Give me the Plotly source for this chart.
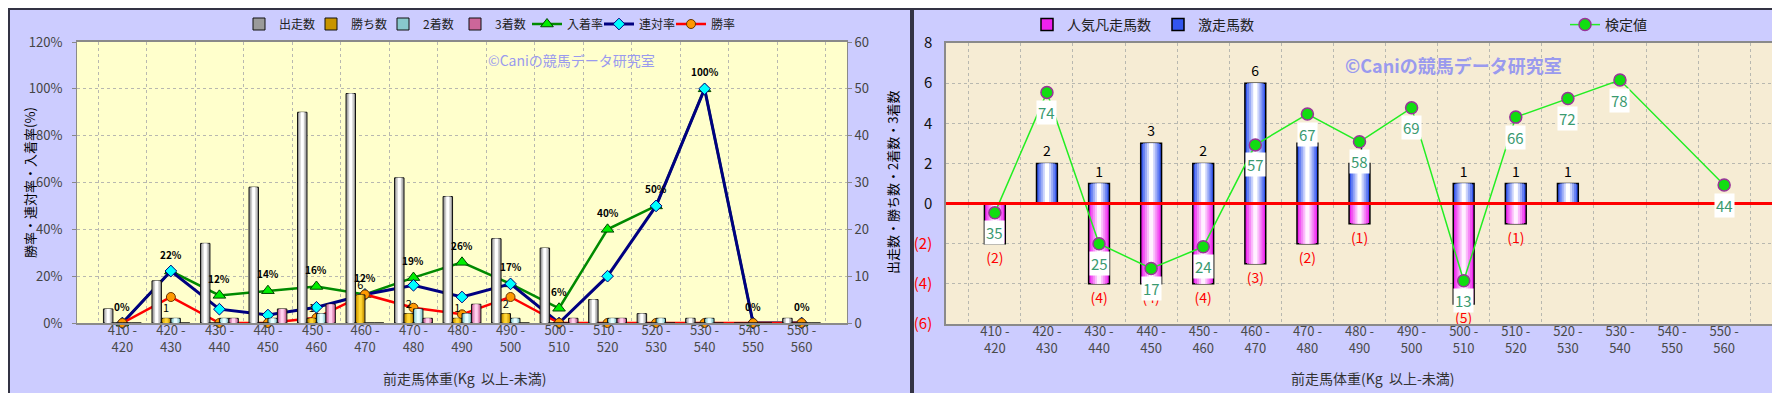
import plotly.graph_objects as go

# ---------------- data ----------------
categories = ["410 -<br>420", "420 -<br>430", "430 -<br>440", "440 -<br>450", "450 -<br>460",
              "460 -<br>470", "470 -<br>480", "480 -<br>490", "490 -<br>500", "500 -<br>510",
              "510 -<br>520", "520 -<br>530", "530 -<br>540", "540 -<br>550", "550 -<br>560"]

# left chart (counts, right axis 0-60)
starters = [3, 9, 17, 29, 45, 49, 31, 27, 18, 16, 5, 2, 1, 0, 1]
wins = [0, 1, 0, 0, 1, 6, 2, 1, 2, 0, 0, 0, 0, 0, 0]
seconds = [0, 1, 1, 1, 2, 0, 3, 2, 1, 0, 1, 1, 1, 0, 0]
thirds = [0, 0, 1, 3, 4, 0, 1, 4, 0, 1, 1, 0, 0, 0, 0]

# left chart (rates %, left axis 0-120%)
place_rate = [0, 22.2, 11.8, 13.8, 15.6, 12.2, 19.4, 25.9, 16.7, 6.3, 40, 50, 100, 0, 0]
quinella_rate = [0, 22.2, 5.9, 3.4, 6.7, 12.2, 16.1, 11.1, 16.7, 0, 20, 50, 100, 0, 0]
win_rate = [0, 11.1, 0, 0, 2.2, 12.2, 6.5, 3.7, 11.1, 0, 0, 0, 0, 0, 0]

# right chart
poor_runs = [-2, 0, -4, -4, -4, -3, -2, -1, 0, -5, -1, 0, 0, 0, 0]
hot_runs = [0, 2, 1, 3, 2, 6, 3, 2, 0, 1, 1, 1, 0, 0, 0]
test_values = [35, 74, 25, 17, 24, 57, 67, 58, 69, 13, 66, 72, 78, None, 44]

right_tickvals = [-6, -4, -2, 0, 2, 4, 6, 8]
right_ticktext = ['<span style="color:#ff0000">(6)</span>', '<span style="color:#ff0000">(4)</span>',
                  '<span style="color:#ff0000">(2)</span>', "0", "2", "4", "6", "8"]

FONT = "Noto Sans CJK JP"
W, H = 1780, 393


def mix(c1, c2, t):
    a = [int(c1[i:i + 2], 16) for i in (1, 3, 5)]
    b = [int(c2[i:i + 2], 16) for i in (1, 3, 5)]
    return "#%02x%02x%02x" % tuple(round(a[k] + (b[k] - a[k]) * t) for k in range(3))


fig = go.Figure()


def gradient_bars(x, y, base, light, width, offset, layers, xaxis, yaxis, name, legend,
                  text=None, textcolor="#000", textsize=11, outline="#111", lw=1):
    for i in range(layers):
        t = i / (layers - 1) if layers > 1 else 0
        w = width * (1 - i / layers)
        off = offset + (width - w) / 2
        kw = {}
        if i == 0 and text is not None:
            kw = dict(text=text, textposition="outside", constraintext="none", cliponaxis=False,
                      outsidetextfont=dict(color=textcolor, size=textsize, family=FONT))
        fig.add_trace(go.Bar(
            x=x, y=y, width=w, offset=off, name=name, legend=legend,
            legendgroup=name, showlegend=(i == 0), xaxis=xaxis, yaxis=yaxis,
            marker=dict(color=mix(base, light, t),
                        line=dict(color=outline, width=lw if i == 0 else 0)),
            hoverinfo="skip" if i else None, **kw))


# ---------- left chart bars ----------
bw = 0.195
gradient_bars(categories, starters, "#9a9a9a", "#ffffff", bw, -0.39, 3, "x", "y2", "出走数", "legend")
gradient_bars(categories, wins, "#c89400", "#ffd633", bw, -0.195, 3, "x", "y2", "勝ち数", "legend",
              text=[str(v) if v else "" for v in wins], textsize=11)
gradient_bars(categories, seconds, "#88c8cc", "#e8ffff", bw, 0.0, 3, "x", "y2", "2着数", "legend")
gradient_bars(categories, thirds, "#cc6699", "#ffd0ee", bw, 0.195, 3, "x", "y2", "3着数", "legend")

# ---------- left chart lines ----------
fig.add_trace(go.Scatter(x=categories, y=place_rate, name="入着率", legend="legend", xaxis="x", yaxis="y",
                         mode="lines+markers", cliponaxis=False,
                         line=dict(color="#008a00", width=2.5),
                         marker=dict(symbol="triangle-up", size=11, color="#00ee00",
                                     line=dict(color="#004400", width=1))))
fig.add_trace(go.Scatter(x=categories, y=quinella_rate, name="連対率", legend="legend", xaxis="x", yaxis="y",
                         mode="lines+markers", cliponaxis=False,
                         line=dict(color="#000080", width=3),
                         marker=dict(symbol="diamond", size=9, color="#00ffff",
                                     line=dict(color="#000080", width=1))))
fig.add_trace(go.Scatter(x=categories, y=win_rate, name="勝率", legend="legend", xaxis="x", yaxis="y",
                         mode="lines+markers", cliponaxis=False,
                         line=dict(color="#ff0000", width=2.5),
                         marker=dict(symbol="circle", size=9, color="#ff9900",
                                     line=dict(color="#663300", width=1))))

# ---------- right chart bars ----------
gradient_bars(categories, poor_runs, "#ee22ee", "#fff0ff", 0.4, -0.2, 5, "x2", "y3", "人気凡走馬数", "legend2",
              text=["(%d)" % -v if v else "" for v in poor_runs], textcolor="#ff0000", textsize=14,
              outline="#000", lw=1.5)
gradient_bars(categories, hot_runs, "#3355ee", "#ffffff", 0.4, -0.2, 5, "x2", "y3", "激走馬数", "legend2",
              text=[str(v) if v else "" for v in hot_runs], textcolor="#000", textsize=14,
              outline="#000", lw=1.5)

fig.add_trace(go.Scatter(x=categories, y=test_values, name="検定値", legend="legend3", xaxis="x2", yaxis="y4",
                         mode="lines+markers", connectgaps=True, cliponaxis=False,
                         line=dict(color="#22ee22", width=1.5),
                         marker=dict(symbol="circle", size=12, color="#11dd11",
                                     line=dict(color="#993399", width=1.5))))

annotations = []
# percent labels above 入着率
for c, v in zip(categories, place_rate):
    annotations.append(dict(x=c, y=v, xref="x", yref="y", text="<b>%d%%</b>" % round(v), showarrow=False,
                            xanchor="center", yanchor="middle",
                            yshift=17, font=dict(size=10, color="#000", family=FONT)))
# 検定値 labels
for c, v in zip(categories, test_values):
    if v is None:
        continue
    annotations.append(dict(x=c, y=v, xref="x2", yref="y4", text=str(v), showarrow=False, yshift=-20,
                            xanchor="center", yanchor="middle",
                            bgcolor="#ffffff", borderpad=1,
                            font=dict(size=15, color="#3a9a70", family=FONT)))

# titles / watermark
annotations += [
    dict(x=22 / W, y=0.555, xref="paper", yref="paper", text="勝率・連対率・入着率(%)", textangle=-90,
         font=dict(size=13, color="#000", family=FONT)),
    dict(x=885 / W, y=0.555, xref="paper", yref="paper", text="出走数・勝ち数・2着数・3着数", textangle=-90,
         font=dict(size=13, color="#000", family=FONT)),
    dict(x=457 / W, y=1 - 370 / H, xref="paper", yref="paper", text="前走馬体重(Kg  以上-未満)",
         font=dict(size=14, color="#333", family=FONT)),
    dict(x=1365 / W, y=1 - 370 / H, xref="paper", yref="paper", text="前走馬体重(Kg  以上-未満)",
         font=dict(size=14, color="#333", family=FONT)),
    dict(x=563 / W, y=1 - 52 / H, xref="paper", yref="paper", text="©Caniの競馬データ研究室",
         font=dict(size=14, color="#9a9aee", family=FONT)),
    dict(x=1445 / W, y=1 - 57 / H, xref="paper", yref="paper", text="<b>©Caniの競馬データ研究室</b>",
         font=dict(size=18, color="#9a9aee", family=FONT)),
]
for a in annotations[-6:]:
    a.update(showarrow=False, xanchor="center", yanchor="middle")

shapes = [
    dict(type="rect", xref="paper", yref="paper", x0=1 / W, x1=903 / W, y0=2 / H, y1=1 - 1 / H,
         line=dict(color="#333344", width=2)),
    dict(type="rect", xref="paper", yref="paper", x0=905 / W, x1=1 - 1 / W, y0=2 / H, y1=1 - 1 / H,
         line=dict(color="#333344", width=2)),
    dict(type="line", xref="x2 domain", yref="y3", x0=0, x1=1, y0=0, y1=0, layer="above",
         line=dict(color="#ff0000", width=3)),
    dict(type="rect", xref="x2 domain", yref="y3 domain", x0=0, x1=1, y0=0, y1=1, layer="below",
         fillcolor="#f6ecd4", line=dict(width=0)),
]

grid = dict(showgrid=True, gridcolor="#b8b8b0", griddash="dot", gridwidth=1)
xcommon = dict(type="category", tickson="boundaries", ticks="", showline=True, mirror=True,
               linecolor="#8a8a8a", linewidth=1.5, ticklabelstandoff=-5,
               tickfont=dict(size=13, color="#4a4a4a", family=FONT), **grid)

fig.update_layout(
    width=W, height=H, margin=dict(l=0, r=0, t=0, b=0, autoexpand=False),
    paper_bgcolor="#ccccff", plot_bgcolor="#ffffcc",
    font=dict(family=FONT),
    barmode="overlay",
    xaxis=dict(domain=[69 / W, 839 / W], anchor="y", categoryorder="array", categoryarray=categories,
               **xcommon),
    yaxis=dict(domain=[78 / H, 359 / H], anchor="x", range=[0, 120], dtick=20, ticksuffix="%",
               ticks="outside", ticklen=4, tickcolor="#888", showline=True, linecolor="#8a8a8a",
               ticklabelstandoff=7,
               tickfont=dict(size=13, color="#444", family=FONT), zeroline=False, **grid),
    yaxis2=dict(domain=[78 / H, 359 / H], anchor="x", overlaying="y", side="right", range=[0, 60],
                dtick=10, ticks="outside", ticklen=4, tickcolor="#888", showline=True, linecolor="#8a8a8a",
                showgrid=False, zeroline=False, tickfont=dict(size=13, color="#444", family=FONT)),
    xaxis2=dict(domain=[938 / W, 1765 / W], anchor="y3", categoryorder="array", categoryarray=categories,
                **xcommon),
    yaxis3=dict(domain=[77 / H, 358 / H], anchor="x2", range=[-6, 8], tickvals=right_tickvals,
                ticktext=right_ticktext, ticks="", showline=True, mirror=True, linecolor="#8a8a8a",
                linewidth=1.5, zeroline=False, ticklabelstandoff=9,
                tickfont=dict(size=15, color="#111", family=FONT), **grid),
    yaxis4=dict(domain=[77 / H, 358 / H], anchor="x2", overlaying="y3", range=[-1, 90], visible=False),
    legend=dict(orientation="h", x=231 / W, xanchor="left", y=1 - 16 / H, yanchor="middle",
                bgcolor="rgba(0,0,0,0)", entrywidth=27, itemwidth=30,
                font=dict(size=12, color="#222", family=FONT)),
    legend2=dict(orientation="h", x=1019 / W, xanchor="left", y=1 - 17 / H, yanchor="middle",
                 bgcolor="rgba(0,0,0,0)", entrywidth=86, itemwidth=30,
                 font=dict(size=14, color="#222", family=FONT)),
    legend3=dict(orientation="h", x=1557 / W, xanchor="left", y=1 - 17 / H, yanchor="middle",
                 bgcolor="rgba(0,0,0,0)", itemwidth=30,
                 font=dict(size=14, color="#222", family=FONT)),
    annotations=annotations,
    shapes=shapes,
    showlegend=True,
)

fig.write_html("out.html")
